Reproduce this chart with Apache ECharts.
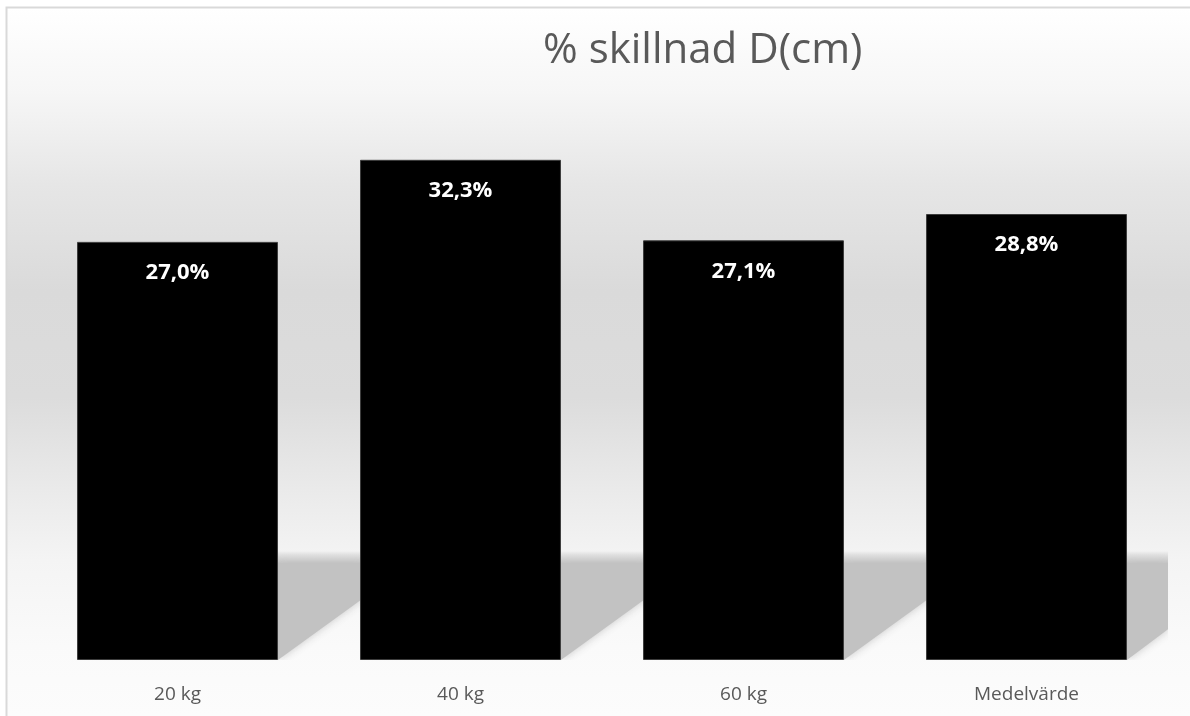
<!DOCTYPE html>
<html>
<head>
<meta charset="utf-8">
<script src="https://cdn.jsdelivr.net/npm/echarts@6/dist/echarts.min.js"></script>
<style>
  html, body { margin: 0; padding: 0; background: #fff; }
  #main { width: 1190px; height: 716px; }
</style>
</head>
<body>
<div id="main"></div>
<script>
// % skillnad D(cm)
const categories = ['20 kg', '40 kg', '60 kg', 'Medelvärde'];
const values = [27.0, 32.3, 27.1, 28.8];

const chart = echarts.init(document.getElementById('main'));

function pct(v) {
  return v.toFixed(1).replace('.', ',') + '%';
}

// grey "floor" shadow behind each bar, to the right of it
function renderShadow(params, api) {
  const p = api.coord([api.value(0), 0]);
  const band = api.size([1, 0])[0];
  const xr = p[0] + band * 0.355;
  const base = p[1];
  const cs = params.coordSys;
  const w = Math.max(0, Math.min(band * 0.3, cs.x + cs.width - xr));
  const top = base - 97;
  return {
    type: 'group',
    children: [{
      type: 'rect',
      shape: { x: xr, y: top - 12, width: w, height: 12 },
      style: {
        fill: new echarts.graphic.LinearGradient(0, 0, 0, 1, [
          { offset: 0, color: 'rgba(200,200,200,0)' },
          { offset: 0.5, color: 'rgba(210,210,210,0.8)' },
          { offset: 1, color: '#c4c4c4' }
        ])
      }
    }, {
      type: 'polygon',
      shape: {
        points: [[xr, top], [xr + w, top], [xr + w, base - 0.7 * w - 2], [xr, base]]
      },
      style: { fill: '#c2c2c2', shadowBlur: 8, shadowColor: 'rgba(195,195,195,0.9)' }
    }]
  };
}

var option = {
  backgroundColor: '#ffffff',
  animation: false,
  title: {
    text: '% skillnad D(cm)',
    left: 538,
    top: 25,
    textStyle: {
      fontFamily: 'Open Sans',
      fontSize: 42,
      fontWeight: 'normal',
      color: '#595959'
    }
  },
  graphic: [{
    type: 'rect',
    z: -10,
    silent: true,
    shape: { x: 7, y: 8, width: 1183, height: 708 },
    style: {
      fill: new echarts.graphic.LinearGradient(0, 0, 0, 1, [
        { offset: 0, color: '#ffffff' },
        { offset: 0.12, color: '#f6f6f6' },
        { offset: 0.25, color: '#e6e6e6' },
        { offset: 0.4, color: '#dadada' },
        { offset: 0.55, color: '#dcdcdc' },
        { offset: 0.68, color: '#eaeaea' },
        { offset: 0.78, color: '#f4f4f4' },
        { offset: 0.9, color: '#fafafa' },
        { offset: 1, color: '#fcfcfc' }
      ])
    }
  }, {
    type: 'polyline',
    z: -9,
    silent: true,
    shape: { points: [[6.5, 716], [6.5, 7.5], [1190, 7.5]] },
    style: { stroke: '#d9d9d9', lineWidth: 2, fill: null }
  }],
  grid: {
    left: 36,
    right: 22,
    top: 118,
    bottom: 56
  },
  xAxis: {
    type: 'category',
    data: categories,
    axisLine: { show: false },
    axisTick: { show: false },
    axisLabel: {
      margin: 25,
      fontFamily: 'Open Sans',
      fontSize: 19,
      color: '#595959'
    }
  },
  yAxis: {
    type: 'value',
    min: 0,
    max: 35,
    show: false,
    splitLine: { show: false }
  },
  series: [{
    type: 'custom',
    z: 1,
    clip: true,
    silent: true,
    renderItem: renderShadow,
    data: values.map((v, i) => [i, v]),
    encode: { x: 0, y: 1 }
  }, {
    type: 'bar',
    z: 2,
    data: values,
    barWidth: '71%',
    itemStyle: { color: '#000000', borderColor: '#3c3c3c', borderWidth: 1 },
    label: {
      show: true,
      position: 'insideTop',
      distance: 20,
      formatter: p => pct(p.value),
      fontFamily: 'Open Sans',
      fontSize: 22,
      fontWeight: 'bold',
      color: '#ffffff'
    }
  }]
};

chart.setOption(option);
</script>
</body>
</html>
